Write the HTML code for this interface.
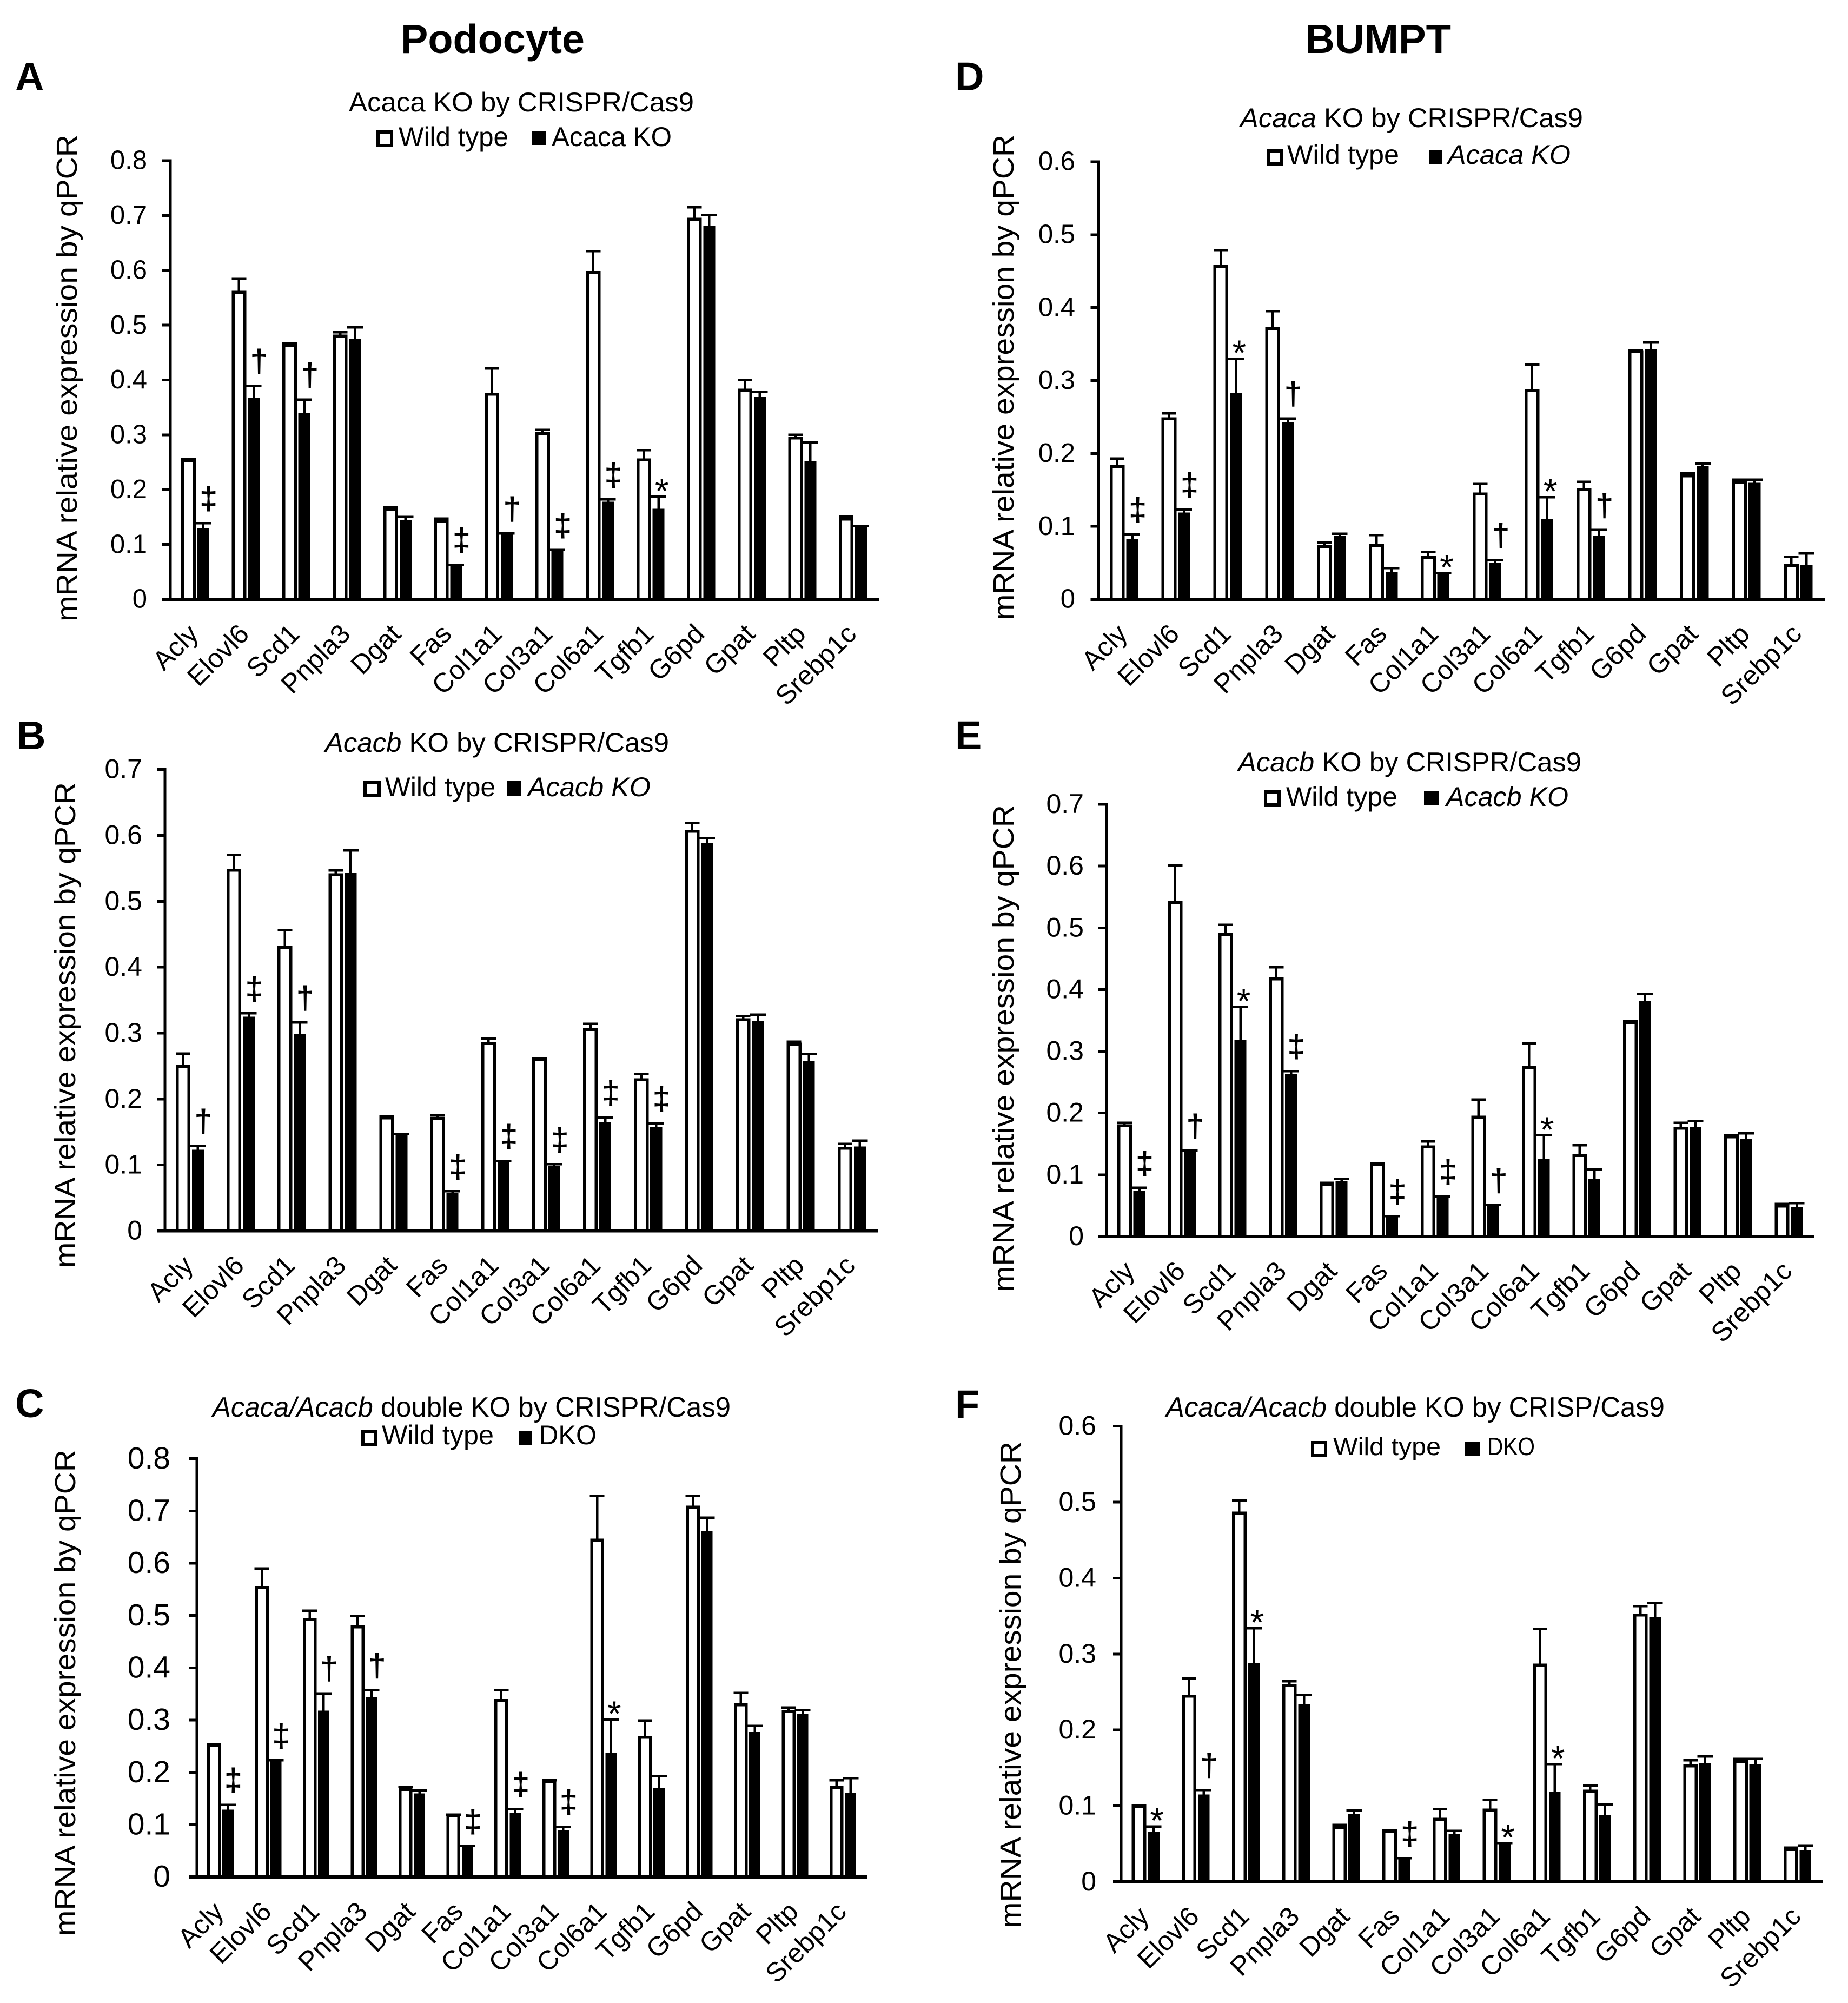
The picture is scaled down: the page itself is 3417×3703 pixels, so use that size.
<!DOCTYPE html>
<html lang="en">
<head>
<meta charset="utf-8">
<title>mRNA relative expression by qPCR in Podocyte and BUMPT cells</title>
<style>
  html, body { margin: 0; padding: 0; background: #fff; }
  svg { display: block; font-family: "Liberation Sans", Arial, sans-serif; fill: #000; }
  .hdr { font-weight: bold; font-size: 75px; }
  .ltr { font-weight: bold; font-size: 74px; }
  .ttl { font-size: 50px; }
  .ttl2 { font-size: 52px; }
  .leg { font-size: 50px; }
  i, .it { font-style: italic; }
</style>
</head>
<body>
<svg id="figure" xmlns="http://www.w3.org/2000/svg" width="3417" height="3703" viewBox="0 0 3417 3703">
  <rect x="0" y="0" width="3417" height="3703" fill="#fff"/>

  <text class="hdr" x="741" y="98" textLength="340" lengthAdjust="spacingAndGlyphs">Podocyte</text>
  <text class="hdr" x="2413" y="98" textLength="270" lengthAdjust="spacingAndGlyphs">BUMPT</text>

  <text class="ltr" x="28" y="167">A</text>
  <text class="ltr" x="31" y="1385">B</text>
  <text class="ltr" x="28" y="2620">C</text>
  <text class="ltr" x="1766" y="167">D</text>
  <text class="ltr" x="1766" y="1385">E</text>
  <text class="ltr" x="1766" y="2622">F</text>

  <!-- Panel titles -->
  <text class="ttl" x="645" y="206" textLength="638" lengthAdjust="spacingAndGlyphs">Acaca KO by CRISPR/Cas9</text>
  <text class="ttl" x="601" y="1390" textLength="636" lengthAdjust="spacingAndGlyphs"><tspan class="it">Acacb</tspan> KO by CRISPR/Cas9</text>
  <text class="ttl2" x="393" y="2619" textLength="958" lengthAdjust="spacingAndGlyphs"><tspan class="it">Acaca/Acacb</tspan> double KO by CRISPR/Cas9</text>
  <text class="ttl" x="2293" y="235" textLength="634" lengthAdjust="spacingAndGlyphs"><tspan class="it">Acaca</tspan> KO by CRISPR/Cas9</text>
  <text class="ttl" x="2289" y="1426" textLength="635" lengthAdjust="spacingAndGlyphs"><tspan class="it">Acacb</tspan> KO by CRISPR/Cas9</text>
  <text class="ttl2" x="2156" y="2619" textLength="922" lengthAdjust="spacingAndGlyphs"><tspan class="it">Acaca/Acacb</tspan> double KO by CRISP/Cas9</text>

  <!-- Legends -->
  <g>
    <rect x="699" y="244" width="25" height="25" fill="#fff" stroke="#000" stroke-width="6"/>
    <text class="leg" x="737" y="270" textLength="203" lengthAdjust="spacingAndGlyphs">Wild type</text>
    <rect x="984" y="242" width="25" height="26"/>
    <text class="leg" x="1020" y="270" textLength="222" lengthAdjust="spacingAndGlyphs">Acaca KO</text>
  </g>
  <g>
    <rect x="675" y="1446" width="26" height="24" fill="#fff" stroke="#000" stroke-width="6"/>
    <text class="leg" x="712" y="1472" textLength="204" lengthAdjust="spacingAndGlyphs">Wild type</text>
    <rect x="937" y="1444" width="27" height="27"/>
    <text class="leg it" x="976" y="1472" textLength="227" lengthAdjust="spacingAndGlyphs">Acacb KO</text>
  </g>
  <g>
    <rect x="671" y="2646" width="24" height="24" fill="#fff" stroke="#000" stroke-width="6"/>
    <text class="leg" x="706" y="2670" textLength="207" lengthAdjust="spacingAndGlyphs">Wild type</text>
    <rect x="959" y="2645" width="25" height="26"/>
    <text class="leg" x="997" y="2670" textLength="106" lengthAdjust="spacingAndGlyphs">DKO</text>
  </g>
  <g>
    <rect x="2345" y="279" width="25" height="24" fill="#fff" stroke="#000" stroke-width="6"/>
    <text class="leg" x="2380" y="303" textLength="207" lengthAdjust="spacingAndGlyphs">Wild type</text>
    <rect x="2642" y="277" width="25" height="26"/>
    <text class="leg it" x="2677" y="303" textLength="227" lengthAdjust="spacingAndGlyphs">Acaca KO</text>
  </g>
  <g>
    <rect x="2340" y="1464" width="25" height="24" fill="#fff" stroke="#000" stroke-width="6"/>
    <text class="leg" x="2378" y="1490" textLength="206" lengthAdjust="spacingAndGlyphs">Wild type</text>
    <rect x="2633" y="1462" width="27" height="27"/>
    <text class="leg it" x="2674" y="1490" textLength="226" lengthAdjust="spacingAndGlyphs">Acacb KO</text>
  </g>
  <g>
    <rect x="2427" y="2667" width="24" height="24" fill="#fff" stroke="#000" stroke-width="6"/>
    <text class="leg" style="font-size:46px" x="2465" y="2690" textLength="199" lengthAdjust="spacingAndGlyphs">Wild type</text>
    <rect x="2708" y="2666" width="29" height="26"/>
    <text class="leg" style="font-size:46px" x="2750" y="2690" textLength="88" lengthAdjust="spacingAndGlyphs">DKO</text>
  </g>

  <g id="charts"></g>
</svg>

<script>
// ---- Data ----
const categories = ['Acly','Elovl6','Scd1','Pnpla3','Dgat','Fas','Col1a1','Col3a1','Col6a1','Tgfb1','G6pd','Gpat','Pltp','Srebp1c'];
const yAxisTitle = 'mRNA relative expression by qPCR';

const ticks08 = ['0','0.1','0.2','0.3','0.4','0.5','0.6','0.7','0.8'];
const ticks07 = ['0','0.1','0.2','0.3','0.4','0.5','0.6','0.7'];
const ticks06 = ['0','0.1','0.2','0.3','0.4','0.5','0.6'];

// Panel A
const aWild      = [0.254,0.561,0.463,0.481,0.164,0.143,0.375,0.303,0.597,0.255,0.694,0.382,0.295,0.147];
const aWildUpper = [0.256,0.584,0.467,0.487,0.168,0.147,0.421,0.309,0.635,0.272,0.715,0.400,0.300,0.151];
const aKo        = [0.129,0.368,0.340,0.475,0.145,0.062,0.119,0.089,0.178,0.165,0.681,0.369,0.252,0.133];
const aKoUpper   = [0.139,0.389,0.364,0.496,0.150,0.063,0.120,0.090,0.182,0.187,0.701,0.378,0.286,0.134];
const aMarks     = ['‡','†','†','','','‡','†','‡','‡','*','','','',''];

// Panel B
const bWild      = [0.250,0.548,0.431,0.541,0.172,0.171,0.285,0.260,0.306,0.230,0.607,0.321,0.284,0.126];
const bWildUpper = [0.269,0.570,0.456,0.547,0.174,0.175,0.292,0.262,0.314,0.238,0.619,0.326,0.287,0.132];
const bKo        = [0.123,0.325,0.299,0.543,0.145,0.058,0.104,0.099,0.165,0.158,0.589,0.318,0.258,0.128];
const bKoUpper   = [0.129,0.330,0.316,0.577,0.147,0.060,0.106,0.101,0.172,0.163,0.596,0.328,0.268,0.137];
const bMarks     = ['†','‡','†','','','‡','‡','‡','‡','‡','','','',''];

// Panel C
const cWild      = [0.252,0.554,0.493,0.479,0.168,0.118,0.338,0.183,0.645,0.268,0.708,0.330,0.317,0.172];
const cWildUpper = [0.253,0.590,0.509,0.499,0.172,0.119,0.357,0.185,0.729,0.299,0.729,0.352,0.324,0.185];
const cKo        = [0.129,0.221,0.318,0.344,0.160,0.058,0.123,0.090,0.238,0.170,0.662,0.277,0.312,0.161];
const cKoUpper   = [0.138,0.223,0.351,0.357,0.165,0.059,0.130,0.096,0.301,0.193,0.687,0.289,0.319,0.189];
const cMarks     = ['‡','‡','†','†','','‡','‡','‡','*','','','','',''];

// Panel D
const dWild      = [0.183,0.248,0.457,0.372,0.073,0.074,0.058,0.145,0.287,0.151,0.340,0.170,0.161,0.047];
const dWildUpper = [0.193,0.255,0.479,0.395,0.078,0.088,0.065,0.158,0.322,0.161,0.341,0.173,0.164,0.058];
const dKo        = [0.083,0.119,0.283,0.243,0.087,0.038,0.035,0.050,0.110,0.087,0.343,0.183,0.160,0.047];
const dKoUpper   = [0.089,0.123,0.330,0.248,0.090,0.043,0.036,0.054,0.140,0.095,0.352,0.186,0.164,0.063];
const dMarks     = ['‡','‡','*','†','','','*','†','*','†','','','',''];

// Panel E
const eWild      = [0.180,0.542,0.490,0.418,0.085,0.117,0.146,0.194,0.274,0.132,0.347,0.176,0.162,0.050];
const eWildUpper = [0.184,0.601,0.505,0.436,0.087,0.119,0.154,0.222,0.313,0.148,0.349,0.184,0.164,0.053];
const eKo        = [0.074,0.138,0.318,0.263,0.090,0.032,0.064,0.050,0.126,0.093,0.381,0.178,0.158,0.048];
const eKoUpper   = [0.079,0.139,0.372,0.268,0.093,0.033,0.065,0.051,0.164,0.109,0.393,0.187,0.167,0.054];
const eMarks     = ['‡','†','*','‡','','‡','‡','†','*','','','','',''];

// Panel F
const fWild      = [0.0996,0.245,0.486,0.259,0.072,0.067,0.083,0.095,0.286,0.120,0.352,0.153,0.159,0.043];
const fWildUpper = [0.101,0.268,0.502,0.264,0.075,0.068,0.096,0.108,0.333,0.127,0.363,0.160,0.162,0.045];
const fKo        = [0.066,0.115,0.288,0.234,0.089,0.030,0.063,0.050,0.119,0.088,0.349,0.156,0.155,0.042];
const fKoUpper   = [0.073,0.121,0.334,0.246,0.094,0.031,0.067,0.051,0.155,0.102,0.367,0.165,0.162,0.048];
const fMarks     = ['*','†','*','','','‡','','*','*','','','','',''];

// ---- Drawing ----
const NS = 'http://www.w3.org/2000/svg';
const root = document.getElementById('charts');

function make(tag, parent, attrs, text) {
  const el = document.createElementNS(NS, tag);
  for (const k in attrs) el.setAttribute(k, attrs[k]);
  if (text !== undefined) el.textContent = text;
  parent.appendChild(el);
  return el;
}

function drawPanel(id, frame, ticks, wild, wildUpper, ko, koUpper, marks) {
  const g = make('g', root, {});
  
  

  const yMax = parseFloat(ticks[ticks.length - 1]);
  const yScale = v => frame.y0 - (v / yMax) * (frame.y0 - frame.yTop);
  const groupW = (frame.x1 - frame.x0) / categories.length;
  const xCenter = i => frame.x0 + groupW * (i + 0.5);
  const wildW = groupW * 0.288;
  const koGap = groupW * 0.03;
  const koW = groupW * 0.235;
  const sw = 5.5;

  // y axis title
  const yMid = frame.titleTop + frame.titleLen / 2;
  const yt = make('text', g, {
    x: frame.titleX, y: yMid, 'text-anchor': 'middle', 'font-size': 54,
    textLength: frame.titleLen, lengthAdjust: 'spacingAndGlyphs',
    transform: 'rotate(-90 ' + frame.titleX + ' ' + yMid + ')'
  }, yAxisTitle);
  
  

  // ticks and tick labels
  ticks.forEach(t => {
    const v = parseFloat(t);
    const yy = yScale(v);
    const tm = make('rect', g, { x: frame.x0 - 15, y: yy - 2.5, width: 15, height: 5, 'shape-rendering': 'crispEdges' });
    
    
    const tl = make('text', g, { x: frame.labelX, y: yy + frame.tickFont * 0.32, 'text-anchor': 'end', 'font-size': frame.tickFont }, t);
    
    
  });

  // bars
  categories.forEach((cat, i) => {
    const cx = xCenter(i);
    const key = cat.toLowerCase();

    // wild type whisker
    const wx = cx - wildW / 2;
    const ws = make('path', g, {
      d: 'M' + wx + ' ' + yScale(wild[i]) + 'V' + yScale(wildUpper[i]) + 'M' + (wx - 13.5) + ' ' + yScale(wildUpper[i]) + 'H' + (wx + 13.5),
      stroke: '#000', 'stroke-width': 4.5, fill: 'none', 'shape-rendering': 'crispEdges'
    });
    
    

    // wild type bar
    const wb = make('rect', g, {
      x: cx - wildW + sw / 2, y: yScale(wild[i]) + sw / 2 - 2,
      width: wildW - sw, height: frame.y0 - yScale(wild[i]) - sw / 2 + 2,
      fill: '#fff', stroke: '#000', 'stroke-width': sw, 'shape-rendering': 'crispEdges'
    });
    
    

    // knockout whisker
    const kx = cx + koGap + koW / 2;
    const ks = make('path', g, {
      d: 'M' + kx + ' ' + yScale(ko[i]) + 'V' + yScale(koUpper[i]) + 'M' + (kx - 14.5) + ' ' + yScale(koUpper[i]) + 'H' + (kx + 14.5),
      stroke: '#000', 'stroke-width': 4.5, fill: 'none', 'shape-rendering': 'crispEdges'
    });
    
    

    // knockout bar
    const kb = make('rect', g, {
      x: cx + koGap, y: yScale(ko[i]), width: koW, height: frame.y0 - yScale(ko[i]),
      fill: '#000', 'shape-rendering': 'crispEdges'
    });
    
    

    // significance mark sits above the knockout whisker
    if (marks[i]) {
      const isStar = marks[i] === '*';
      const my = yScale(koUpper[i]) + (isStar ? 12 : -26);
      const mx = kx + (isStar ? 6 : 10);
      const mk = make('text', g, {
        x: mx, y: my, 'text-anchor': 'middle', 'font-size': isStar ? 66 : 58,
        stroke: '#000', 'stroke-width': isStar ? 0 : 1
      }, marks[i]);
      
      
    }

    // category label
    const lx = cx + 8;
    const ly = frame.y0 + 67;
    const lb = make('text', g, {
      x: lx, y: ly, 'text-anchor': 'end', 'font-size': 50,
      transform: 'rotate(-45 ' + lx + ' ' + ly + ')'
    }, cat);
    
    
  });

  // axes on top
  const ya = make('rect', g, { x: frame.x0 - 2.5, y: frame.yTop - 2.5, width: 5, height: frame.y0 - frame.yTop + 2.5, 'shape-rendering': 'crispEdges' });
  
  
  const xa = make('rect', g, { x: frame.x0 - 15, y: frame.y0 - 3, width: frame.x1 - frame.x0 + 15, height: 6, 'shape-rendering': 'crispEdges' });
  
  
}

drawPanel('a', { x0: 315, x1: 1625, y0: 1108, yTop: 297, labelX: 272, tickFont: 49, titleX: 142, titleTop: 249, titleLen: 900 }, ticks08, aWild, aWildUpper, aKo, aKoUpper, aMarks);
drawPanel('b', { x0: 305, x1: 1623, y0: 2275.5, yTop: 1422.6, labelX: 263, tickFont: 50, titleX: 139, titleTop: 1446, titleLen: 898 }, ticks07, bWild, bWildUpper, bKo, bKoUpper, bMarks);
drawPanel('c', { x0: 364, x1: 1604, y0: 3470, yTop: 2696.6, labelX: 315, tickFont: 57, titleX: 139, titleTop: 2680, titleLen: 899 }, ticks08, cWild, cWildUpper, cKo, cKoUpper, cMarks);
drawPanel('d', { x0: 2031.5, x1: 3374, y0: 1108, yTop: 299, labelX: 1988, tickFont: 49, titleX: 1874, titleTop: 249, titleLen: 897 }, ticks06, dWild, dWildUpper, dKo, dKoUpper, dMarks);
drawPanel('e', { x0: 2046, x1: 3355, y0: 2286, yTop: 1487, labelX: 2004, tickFont: 50, titleX: 1874, titleTop: 1488, titleLen: 900 }, ticks07, eWild, eWildUpper, eKo, eKoUpper, eMarks);
drawPanel('f', { x0: 2073, x1: 3371, y0: 3479, yTop: 2636.7, labelX: 2027, tickFont: 50, titleX: 1887, titleTop: 2665, titleLen: 899 }, ticks06, fWild, fWildUpper, fKo, fKoUpper, fMarks);
</script>
</body>
</html>
